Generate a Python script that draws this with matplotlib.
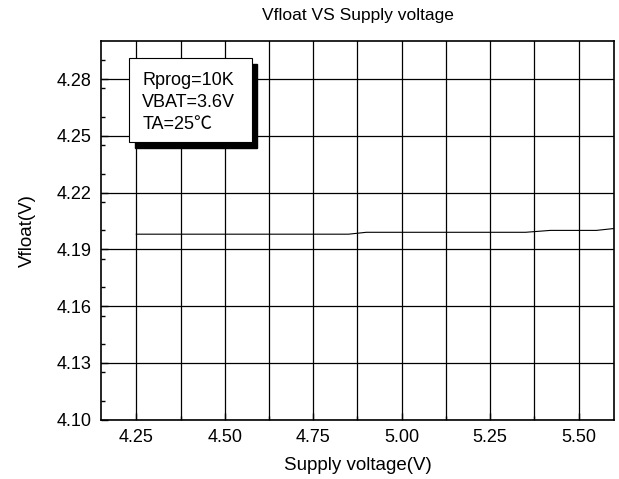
import matplotlib
matplotlib.use("Agg")
import matplotlib.pyplot as plt
from matplotlib.ticker import MultipleLocator
from matplotlib.patches import Rectangle

# values
supply_v = [4.25, 4.50, 4.75, 4.85, 4.90, 5.00, 5.25, 5.35, 5.42, 5.50, 5.55, 5.60]
vfloat = [4.198, 4.198, 4.198, 4.198, 4.199, 4.199, 4.199, 4.199, 4.200, 4.200, 4.200, 4.201]
y_ticks = [4.10, 4.13, 4.16, 4.19, 4.22, 4.25, 4.28]
x_ticks = [4.25, 4.50, 4.75, 5.00, 5.25, 5.50]
note_lines = ["Rprog=10K", "VBAT=3.6V", "TA=25℃"]

plt.rcParams["font.family"] = ["Liberation Sans", "Noto Sans CJK SC", "DejaVu Sans"]

fig = plt.figure(figsize=(6.19, 4.79), dpi=100)
ax = fig.add_axes([0.163, 0.124, 0.829, 0.790])

ax.plot(supply_v, vfloat, color="black", lw=0.8, zorder=3)

ax.set_xlim(4.15, 5.60)
ax.set_ylim(4.10, 4.30)
ax.set_xticks(x_ticks)
ax.set_xticklabels([f"{t:.2f}" for t in x_ticks])
ax.xaxis.set_minor_locator(MultipleLocator(0.125))
ax.set_yticks(y_ticks)
ax.set_yticklabels([f"{t:.2f}" for t in y_ticks])
ax.yaxis.set_minor_locator(MultipleLocator(0.015))

ax.tick_params(which="both", direction="in", labelsize=13, width=1, color="black")
ax.tick_params(which="major", length=5, pad=6.5)
ax.tick_params(which="minor", length=3)
ax.tick_params(axis="x", which="both", top=False)
ax.tick_params(axis="y", which="both", right=False)

ax.grid(True, axis="x", which="both", color="black", lw=0.9)
ax.grid(True, axis="y", which="major", color="black", lw=0.9)
for s in ax.spines.values():
    s.set_linewidth(1.2)

ax.set_title("Vfloat VS Supply voltage", fontsize=12.5, pad=15)
ax.set_xlabel("Supply voltage(V)", fontsize=13.5, labelpad=8)
ax.set_ylabel("Vfloat(V)", fontsize=13.5, labelpad=15)

# annotation box with shadow (axes fraction coords)
bx, by, bw, bh = 0.0552, 0.7339, 0.2386, 0.2204
ax.add_patch(Rectangle((bx + 0.0111, by - 0.0151), bw, bh, transform=ax.transAxes,
                       facecolor="black", edgecolor="black", zorder=5))
ax.add_patch(Rectangle((bx, by), bw, bh, transform=ax.transAxes,
                       facecolor="white", edgecolor="black", lw=0.8, zorder=6))
line_y = [0.9014, 0.8423, 0.7842]
for txt, ty in zip(note_lines, line_y):
    ax.text(0.0805, ty, txt, transform=ax.transAxes,
            fontsize=13, va="center_baseline", ha="left", zorder=7)

fig.savefig("out.png", dpi=100)
